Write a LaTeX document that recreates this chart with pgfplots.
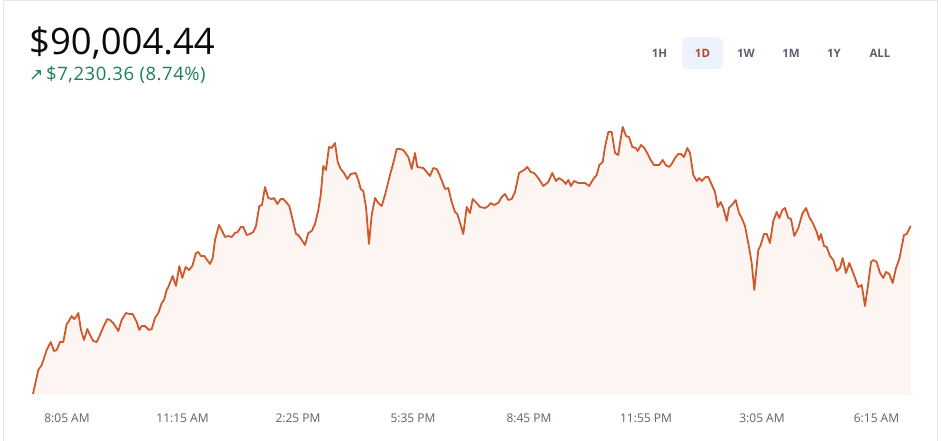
\documentclass[border=0pt]{standalone}
\usepackage{pgfplots}
\pgfplotsset{compat=1.18}
\usepackage{fontspec}
\setmainfont{Open Sans}
\newfontfamily\arrowfont{DejaVu Sans}
\newfontfamily\subfont[LetterSpace=3]{Open Sans}
\definecolor{lineC}{RGB}{207,88,44}
\definecolor{fillC}{RGB}{253,245,241}
\definecolor{greenC}{RGB}{30,128,88}
\definecolor{titleC}{RGB}{10,11,13}
\definecolor{grayC}{RGB}{91,97,110}
\definecolor{btnbg}{RGB}{238,242,250}
\definecolor{borderC}{RGB}{228,230,233}
\pgfplotstableread{
x y
33 1
38.3 25
41.7 30
46.7 45
50.7 53
54 44
56.7 45
60 53
63.3 53
66.7 71
68.3 73
71.7 79
74 76
76 78
78.3 82
81 65
84 55
87.3 66
90 60
93.3 54
96.7 53
100 60
103.3 68
107.3 76
110 75
113.3 72
118.3 64
121.7 75
126 82
129.3 81
132.7 81
136.7 73
139.3 65
141.7 69
145 69
149 65
151.7 66
155 77
158.3 82
161.7 92
164 95
166.7 105
168.3 108
172.7 119
176 109
179.3 129
182.3 117
185.7 128
189 125
192.3 129
196 142
198.3 143
201 139
204.3 139
210 131
212.7 137
215 155
219 170
221.7 165
225 158
228.3 159
231.7 158
235 162
237.7 163
240.7 168
243.3 168
246.7 160
250 161
253.3 163
256 169
259.3 189
262 190
265 208
268.3 197
271.7 196
274 197
277.3 191
280.7 196
283.3 196
286 193
289.3 189
292.7 175
296 161
298.3 160
301.7 155
305 150
308.3 162
311.7 164
315 171
318.3 185
320.7 200
323.3 229
326 225
329 248
331.7 247
335 252
337.7 233
340.7 226
344 222
347.3 216
350.7 221
355.7 222
358.3 215
360.7 206
363.3 204
366 188
369 151
371.7 180
375 197
378.3 192
381.7 189
385 200
390 220
393.3 232
396.7 246
400 246
403.3 245
408.3 238
411.7 226
415 242
417.3 228
423.3 227
426.7 223
430 219
433.3 227
436.7 226
440 219
445 206
448.3 207
451.7 193
455 183
457.3 181
460.7 170
463.3 161
466.7 188
470 182
472.7 196
476.7 192
480 188
485 187
488.3 189
490.7 192
494 190
498.3 192
501.7 198
505 201
508.3 195
511.7 196
515 203
519 222
524 225
527.3 228
530.7 223
534 222
538.3 217
543.3 209
548.3 213
552.3 222
556 214
559 217
563.3 214
565.7 211
568.3 215
571 209
574 214
578.3 212
585 212
589.3 209
593.3 216
596.7 220
599.3 230
602.7 233
605 248
608.3 263
611.7 263
615 242
618.3 240
620 252
622.7 268
626 259
629 258
632.3 248
635.7 247
637.7 244
641 250
644.3 247
647.7 241
650.7 235
654 230
659.3 230
662.7 235
665.7 230
669 228
671.7 231
675 237
678.3 241
681 241
684 238
687.3 247
690 242
693.3 220
696.7 214
699.3 217
701.7 214
705.7 218
708.3 218
711 212
715 203
717.7 188
720.7 193
723.3 187
726.7 174
729 187
732.7 191
735.7 195
739 182
741.7 177
745 169
749 148
751.7 132
754.3 105
758.3 145
760.7 150
764 161
766.7 161
770 152
773.3 174
776.7 183
779.3 177
782.3 185
785 187
788.3 177
791 176
794.3 159
798.3 167
802.3 181
806 187
809.3 178
812.7 172
816.7 163
819 155
821 161
824 149
826.7 148
830 139
833.3 135
836.7 124
840 127
842.7 137
846 122
849.3 132
854 120
858.3 108
861.7 110
865 89
868.3 112
871 133
873.3 135
876.7 133
880 122
883.3 117
886 123
889.3 121
892.7 112
896 127
899.3 136
904 160
906.7 161
910.7 169
}\price
\begin{document}
\begin{tikzpicture}[x=1pt,y=1pt]
\useasboundingbox (0,0) rectangle (942,441);
\fill[white] (0,0) rectangle (942,441);
\draw[borderC, line width=1pt] (3,-2) -- (3,440) -- (937,440) -- (937,-2);
% header
\node[anchor=base west, inner sep=0pt, text=titleC, font=\fontsize{36.5}{42}\selectfont] at (29,386) {\$90,004.44};
\node[anchor=base west, inner sep=0pt, text=greenC, font=\fontsize{17}{19}\selectfont\arrowfont] at (29,360) {↗};
\node[anchor=base west, inner sep=0pt, text=greenC, font=\fontsize{18.5}{21}\selectfont\subfont] at (46,360) {\$7,230.36 (8.74\%)};
% range buttons
\fill[btnbg, rounded corners=6pt] (682,372) rectangle (723,404);
\foreach \lab/\xx in {1H/659.5, 1W/746, 1M/791, 1Y/834, ALL/880}{
  \node[text=grayC, font=\fontsize{11.5}{13}\selectfont\bfseries, inner sep=0pt] at (\xx,388) {\lab};
}
\node[text=lineC!85!black, font=\fontsize{11.5}{13}\selectfont\bfseries, inner sep=0pt] at (702.5,388) {1D};
\begin{axis}[
  at={(33,46)}, anchor=south west,
  scale only axis, width=878pt, height=275pt,
  xmin=33, xmax=911, ymin=0, ymax=275,
  axis line style={draw=none},
  clip=false,
  xtick={67,182.5,298,413,529,646,762,876.5},
  xticklabels={8:05 AM,11:15 AM,2:25 PM,5:35 PM,8:45 PM,11:55 PM,3:05 AM,6:15 AM},
  xticklabel style={font=\fontsize{12}{14}\selectfont, text=grayC, inner sep=0pt, anchor=base, yshift=-27.5pt},
  ytick=\empty,
  major tick length=0pt,
  tick style={draw=none},
]
\addplot[draw=none, fill=fillC] table[x=x,y=y]{\price} \closedcycle;
\addplot[lineC, line width=1.8pt, line join=round, mark=none] table[x=x,y=y]{\price};
\end{axis}
\end{tikzpicture}
\end{document}
